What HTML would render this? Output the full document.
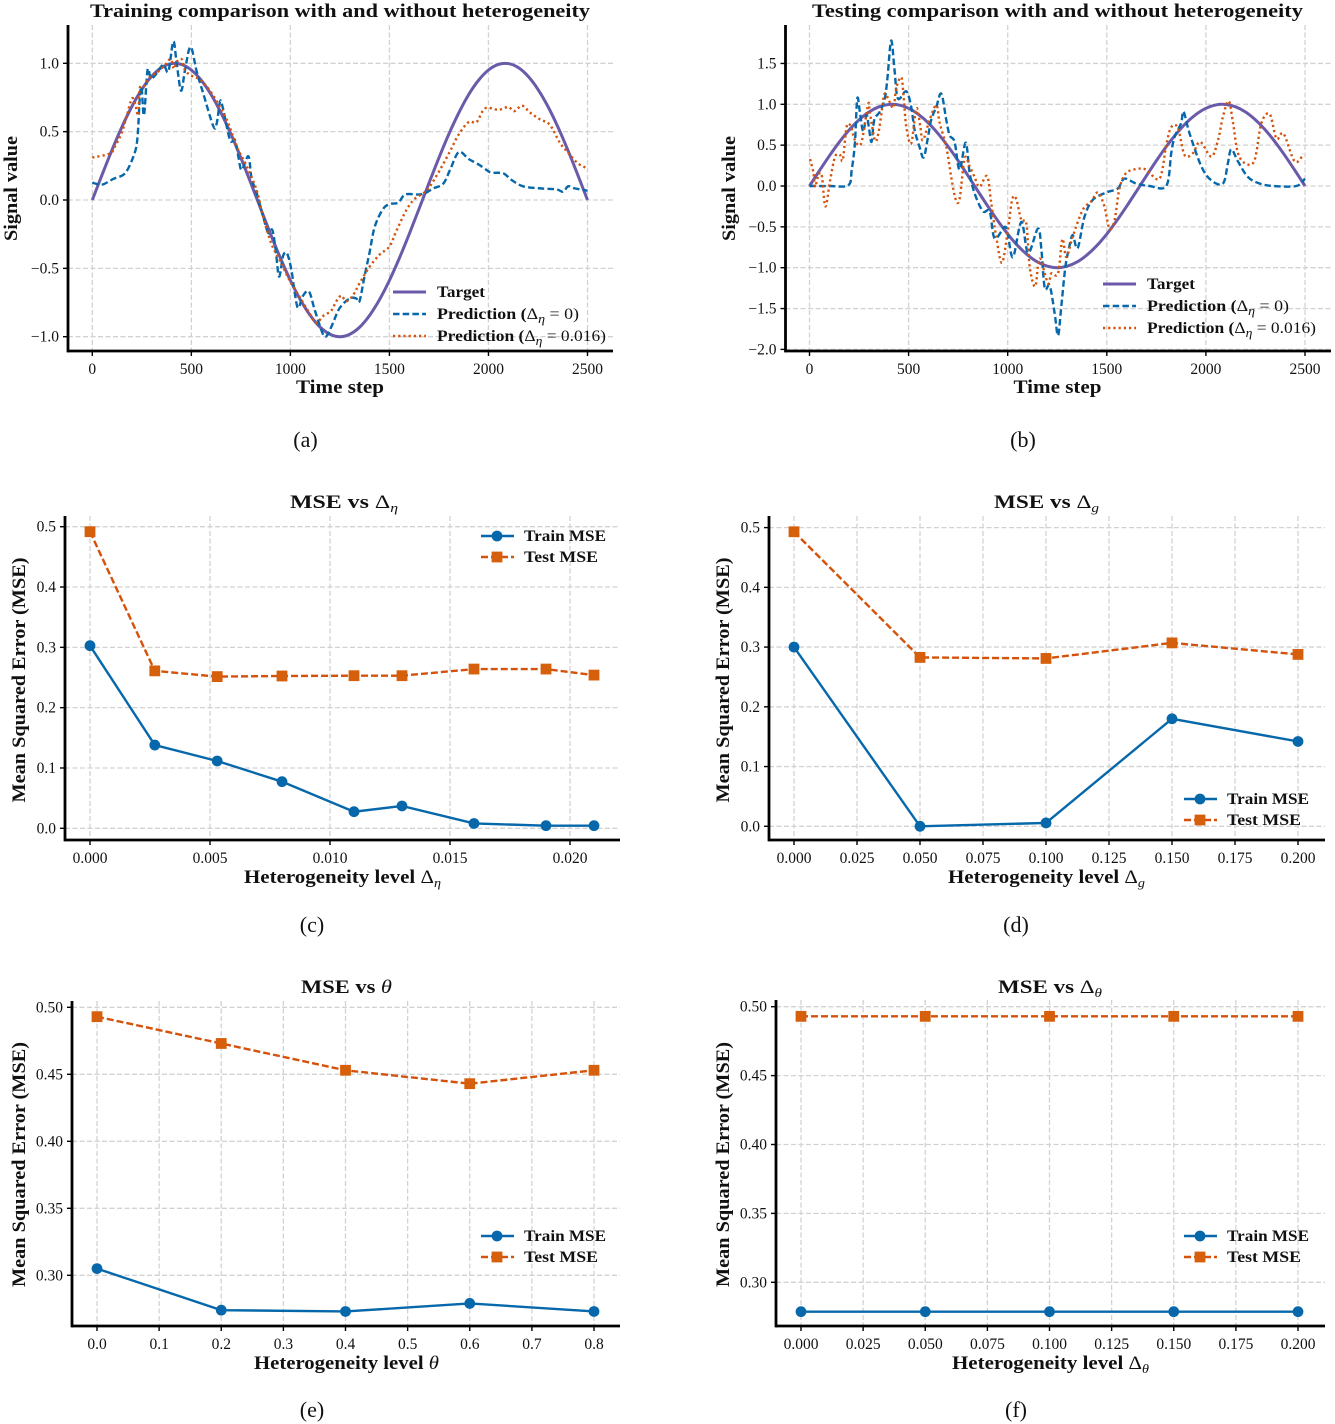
<!DOCTYPE html>
<html lang="en">
<head>
<meta charset="utf-8">
<title>Heterogeneity comparison charts</title>
<style>
html,body{margin:0;padding:0;background:#fff;}
svg{display:block;font-family:"Liberation Serif","DejaVu Serif",serif;}
</style>
</head>
<body>
<svg id="chart" width="1335" height="1424" viewBox="0 0 1335 1424" xmlns="http://www.w3.org/2000/svg">
<rect width="1335" height="1424" fill="#fff"/>
</svg>
<script>
// ---------- Signal data (panels a, b) ----------
const targetTime = [0,50,100,150,200,250,300,350,400,450,500,550,600,650,700,750,800,850,900,950,1000,1050,1100,1150,1200,1250,1300,1350,1400,1450,1500,1550,1600,1650,1700,1750,1800,1850,1900,1950,2000,2050,2100,2150,2200,2250,2300,2350,2400,2450,2500];
const targetValues = [0,.187,.368,.536,.685,.809,.905,.969,.998,.992,.951,.876,.771,.637,.482,.309,.125,-.063,-.249,-.426,-.588,-.729,-.844,-.930,-.982,-1,-.982,-.930,-.844,-.729,-.588,-.426,-.249,-.063,.125,.309,.482,.637,.771,.876,.951,.992,.998,.969,.905,.809,.685,.536,.368,.187,0];

const trainDashTime = [0,30,56,106,165,207,227,240,249,261,279,295,316,358,384,409,426,448,468,496,527,560,611,628,645,658,695,720,737,754,788,804,830,862,888,909,926,943,963,983,1005,1022,1039,1064,1094,1122,1156,1173,1190,1215,1249,1299,1332,1349,1374,1399,1425,1466,1500,1545,1579,1646,1680,1722,1772,1806,1850,1900,1950,1990,2015,2075,2117,2175,2260,2343,2377,2402,2436,2500];
const trainDashValues = [.127,.115,.115,.154,.195,.317,.44,.75,.82,.62,.95,.89,.91,.99,.94,1.16,1.0,.80,.95,1.12,.94,.78,.54,.56,.72,.68,.44,.44,.32,.22,.32,.16,.05,-.12,-.24,-.22,-.37,-.56,-.41,-.39,-.51,-.68,-.79,-.70,-.67,-.80,-.95,-1.0,-.98,-.90,-.79,-.72,-.72,-.74,-.56,-.39,-.2,-.07,-.03,-.02,.04,.04,.05,.085,.12,.22,.35,.30,.26,.22,.2,.195,.146,.1,.085,.078,.06,.10,.085,.068];

const trainDotTime = [0,89,114,148,173,199,215,232,240,266,291,333,367,396,412,426,451,468,500,544,594,645,687,729,779,830,862,904,946,997,1047,1097,1131,1164,1206,1232,1257,1282,1315,1349,1399,1450,1500,1537,1587,1629,1688,1739,1800,1850,1900,1940,1983,2050,2100,2130,2170,2210,2260,2310,2360,2400,2450,2500];
const trainDotValues = [.31,.34,.39,.49,.61,.74,.71,.62,.82,.84,.90,.94,.99,1.03,.96,1.01,1.03,.95,.91,.88,.80,.68,.56,.39,.25,.07,-.12,-.32,-.44,-.59,-.71,-.83,-.90,-.85,-.81,-.74,-.70,-.74,-.70,-.61,-.49,-.40,-.34,-.22,-.07,.01,.07,.18,.34,.48,.57,.57,.67,.66,.68,.65,.69,.64,.59,.55,.42,.35,.27,.23];

const testDashTime = [0,100,196,213,229,241,255,271,288,300,313,327,355,380,394,412,429,446,488,513,530,555,576,598,614,640,665,690,707,732,757,788,808,833,875,909,934,985,1001,1027,1069,1103,1153,1170,1187,1212,1237,1254,1271,1291,1311,1328,1353,1387,1429,1497,1556,1589,1648,1716,1800,1825,1842,1875,1887,1918,1977,2027,2086,2111,2128,2162,2212,2271,2339,2456,2500];
const testDashValues = [0,0,.01,.2,.52,1.07,.89,.67,.87,.71,.54,.81,.91,1.07,1.34,1.78,1.42,1.07,1.16,.97,.69,.48,.35,.60,.81,.97,1.13,.81,.62,.54,.2,.53,.16,-.09,-.31,-.31,-.64,-.5,-.6,-.87,-.44,-.82,-.52,-.78,-1.25,-1.22,-1.56,-1.83,-1.46,-.99,-.74,-.6,-.76,-.38,-.17,-.08,-.03,.09,.03,0,0,.4,.6,.77,.91,.64,.24,.07,.03,.28,.45,.3,.11,.03,0,0,.09];

const testDotTime = [3,20,28,45,62,80,104,129,154,168,188,209,221,238,263,296,305,330,347,363,379,404,424,438,463,475,488,513,539,559,572,606,640,657,690,715,737,757,783,808,833,858,896,917,942,971,1001,1023,1043,1069,1094,1111,1139,1161,1203,1220,1254,1276,1296,1328,1379,1421,1455,1488,1513,1539,1564,1598,1657,1699,1766,1800,1825,1859,1892,1934,1971,2027,2061,2086,2115,2137,2162,2204,2246,2280,2322,2356,2392,2448,2493];
const testDotValues = [.33,.16,-.01,.13,.13,-.25,.07,.36,.38,.32,.73,.73,.62,.52,.54,1.0,.89,.56,.64,.89,1.13,1.03,.96,1.2,1.33,1.09,.73,.52,.95,.73,.56,.81,.99,.77,.48,.11,-.16,-.16,.34,.24,.11,-.01,.12,-.21,-.62,-.94,-.54,-.16,-.16,-.42,-.46,-.99,-1.23,-.89,-1.19,-1.07,-1.07,-.65,-.87,-.62,-.29,-.19,-.08,-.25,-.52,-.42,-.03,.16,.21,.2,.09,.5,.72,.71,.38,.4,.54,.36,.56,.85,1.04,.77,.4,.27,.32,.77,.88,.58,.64,.3,.39];

// ---------- MSE data (panels c-f) ----------
const etaLevels = [0,.0027,.0053,.008,.011,.013,.016,.019,.021];
const etaTrainMse = [.3027,.138,.1116,.0773,.0275,.037,.008,.0044,.0044];
const etaTestMse = [.4917,.261,.2515,.2525,.253,.253,.264,.264,.254];

const gLevels = [0,.05,.1,.15,.2];
const gTrainMse = [.30,0,.0056,.18,.142];
const gTestMse = [.493,.2827,.281,.307,.2877];

const thetaLevels = [0,.2,.4,.6,.8];
const thetaTrainMse = [.305,.274,.273,.279,.273];
const thetaTestMse = [.493,.473,.453,.443,.453];

const dThetaLevels = [0,.05,.1,.15,.2];
const dThetaTrainMse = [.2787,.2787,.2787,.2787,.2787];
const dThetaTestMse = [.493,.493,.493,.493,.493];

// ---------- Tick labels ----------
const timeTicks = [0,500,1000,1500,2000,2500];
const signalTicksA = [-1,-.5,0,.5,1];
const signalTicksB = [-2,-1.5,-1,-.5,0,.5,1,1.5];
const etaTicks = [0,.005,.01,.015,.02];
const mseTicksCoarse = [0,.1,.2,.3,.4,.5];
const gTicks = [0,.025,.05,.075,.1,.125,.15,.175,.2];
const thetaTicks = [0,.1,.2,.3,.4,.5,.6,.7,.8];
const mseTicksFine = [.3,.35,.4,.45,.5];

// ---------- Rendering ----------
const NS = 'http://www.w3.org/2000/svg';
const root = document.getElementById('chart');
const PURPLE = '#6a5aa9', BLUE = '#0668aa', RED = '#d4520a', MARK = '#d65f0c', GRID = '#d2d2d2';
const DELTA = '<tspan font-weight="normal">\u0394</tspan>';
const sub = (s) => '<tspan font-weight="normal" font-style="italic" font-size="12.5" dy="4">' + s + '</tspan>';
const after = (s) => '<tspan font-weight="normal" dy="-4">' + s + '</tspan>';

function shape(parent, tag, name, attrs) {
  const el = document.createElementNS(NS, tag);
  
  
  for (const k in attrs) el.setAttribute(k, attrs[k]);
  parent.appendChild(el);
  return el;
}
function label(parent, name, x, y, html, o) {
  o = o || {};
  const el = document.createElementNS(NS, 'text');
  
  
  el.setAttribute('x', x);
  el.setAttribute('y', y);
  el.setAttribute('font-size', o.size || 15);
  el.setAttribute('fill', '#111');
  el.setAttribute('text-anchor', o.anchor || 'middle');
  if (o.bold) el.setAttribute('font-weight', 'bold');
  if (o.len) {
    el.setAttribute('textLength', o.len);
    el.setAttribute('lengthAdjust', 'spacingAndGlyphs');
  }
  if (o.rotate) el.setAttribute('transform', 'rotate(-90 ' + x + ' ' + y + ')');
  el.innerHTML = html;
  parent.appendChild(el);
  return el;
}
function fmt(v, d) { return (v < 0 ? '\u2212' : '') + Math.abs(v).toFixed(d); }
function linear(d0, d1, p0, p1) { return (v) => p0 + (v - d0) * (p1 - p0) / (d1 - d0); }
function smoothPath(xs, ys) {
  let d = 'M' + xs[0].toFixed(2) + ' ' + ys[0].toFixed(2);
  for (let i = 0; i < xs.length - 1; i++) {
    const a = Math.max(i - 1, 0), b = Math.min(i + 2, xs.length - 1);
    const c1x = xs[i] + (xs[i + 1] - xs[a]) / 6, c1y = ys[i] + (ys[i + 1] - ys[a]) / 6;
    const c2x = xs[i + 1] - (xs[b] - xs[i]) / 6, c2y = ys[i + 1] - (ys[b] - ys[i]) / 6;
    d += 'C' + c1x.toFixed(2) + ' ' + c1y.toFixed(2) + ' ' + c2x.toFixed(2) + ' ' + c2y.toFixed(2) + ' ' + xs[i + 1].toFixed(2) + ' ' + ys[i + 1].toFixed(2);
  }
  return d;
}
function straightPath(xs, ys) {
  return xs.map((x, i) => (i ? 'L' : 'M') + x.toFixed(2) + ' ' + ys[i].toFixed(2)).join('');
}
function axes(c) {
  const g = shape(root, 'g', c.id, {});
  const sx = linear(c.xd[0], c.xd[1], c.xp[0], c.xp[1]);
  const sy = linear(c.yd[0], c.yd[1], c.yp[0], c.yp[1]);
  const gridG = shape(g, 'g', 'grid', {});
  c.xTicks.forEach((t) => {
    shape(gridG, 'line', 'vertical-gridline', { x1: sx(t), x2: sx(t), y1: c.top, y2: c.bottom, stroke: GRID, 'stroke-width': 1.3, 'stroke-dasharray': '5 2.5' });
  });
  c.yTicks.forEach((t) => {
    shape(gridG, 'line', 'horizontal-gridline', { x1: c.left, x2: c.right, y1: sy(t), y2: sy(t), stroke: GRID, 'stroke-width': 1.3, 'stroke-dasharray': '5 2.5' });
  });
  return { g: g, sx: sx, sy: sy };
}
function frame(a, c) {
  const g = a.g;
  shape(g, 'line', 'y-axis-spine', { x1: c.left, x2: c.left, y1: c.top, y2: c.bottom + 1.4, stroke: '#000', 'stroke-width': 2.8 });
  shape(g, 'line', 'x-axis-spine', { x1: c.left, x2: c.right, y1: c.bottom, y2: c.bottom, stroke: '#000', 'stroke-width': 2.8 });
  c.xTicks.forEach((t) => {
    shape(g, 'line', 'x-tick', { x1: a.sx(t), x2: a.sx(t), y1: c.bottom, y2: c.bottom + 5, stroke: '#000', 'stroke-width': 1.4 });
    label(g, 'x-tick-label', a.sx(t), c.bottom + 23, fmt(t, c.xDec), { size: 15.5 });
  });
  c.yTicks.forEach((t) => {
    shape(g, 'line', 'y-tick', { x1: c.left - 5, x2: c.left, y1: a.sy(t), y2: a.sy(t), stroke: '#000', 'stroke-width': 1.4 });
    label(g, 'y-tick-label', c.left - 9, a.sy(t) + 5, fmt(t, c.yDec), { size: 15.5, anchor: 'end' });
  });
  label(g, 'chart-title', c.title[1], c.title[2], c.title[0], { size: 19, bold: true, len: c.title[3] });
  label(g, 'x-axis-title', c.xLabel[1], c.xLabel[2], c.xLabel[0], { size: 18.5, bold: true, len: c.xLabel[3] });
  label(g, 'y-axis-title', c.yLabel[1], c.yLabel[2], c.yLabel[0], { size: 18.5, bold: true, len: c.yLabel[3], rotate: true });
  label(g, 'panel-caption', c.caption[1], c.caption[2], c.caption[0], { size: 22 });
}
function signalPanel(c, series, leg) {
  const a = axes(c);
  const tx = (arr) => arr.map(a.sx), ty = (arr) => arr.map(a.sy);
  shape(a.g, 'path', 'target-line', { d: smoothPath(tx(targetTime), ty(targetValues)), fill: 'none', stroke: PURPLE, 'stroke-width': 3 });
  shape(a.g, 'path', 'prediction-dashed-line', { d: smoothPath(tx(series[0]), ty(series[1])), fill: 'none', stroke: BLUE, 'stroke-width': 2.4, 'stroke-dasharray': '6.5 3.2' });
  shape(a.g, 'path', 'prediction-dotted-line', { d: smoothPath(tx(series[2]), ty(series[3])), fill: 'none', stroke: RED, 'stroke-width': 2.4, 'stroke-dasharray': '2.2 3' });
  frame(a, c);
  const lg = shape(a.g, 'g', 'legend', {});
  shape(lg, 'line', 'legend-target-swatch', { x1: leg.x, x2: leg.x + 33, y1: leg.y[0], y2: leg.y[0], stroke: PURPLE, 'stroke-width': 3 });
  shape(lg, 'line', 'legend-dashed-swatch', { x1: leg.x, x2: leg.x + 33, y1: leg.y[1], y2: leg.y[1], stroke: BLUE, 'stroke-width': 2.4, 'stroke-dasharray': '6.5 3.2' });
  shape(lg, 'line', 'legend-dotted-swatch', { x1: leg.x, x2: leg.x + 33, y1: leg.y[2], y2: leg.y[2], stroke: RED, 'stroke-width': 2.4, 'stroke-dasharray': '2.2 3' });
  const tx0 = leg.x + 44;
  label(lg, 'legend-target-label', tx0, leg.y[0] + 5, 'Target', { size: 16, bold: true, anchor: 'start', len: 48 });
  label(lg, 'legend-dashed-label', tx0, leg.y[1] + 5, 'Prediction (' + DELTA + sub('\u03b7') + after(' = 0') + '<tspan font-weight="normal">)</tspan>', { size: 16, bold: true, anchor: 'start', len: 142 });
  label(lg, 'legend-dotted-label', tx0, leg.y[2] + 5, 'Prediction (' + DELTA + sub('\u03b7') + after(' = 0.016') + '<tspan font-weight="normal">)</tspan>', { size: 16, bold: true, anchor: 'start', len: 169 });
}
function msePanel(c, xs, train, test, leg) {
  const a = axes(c);
  const px = xs.map(a.sx);
  shape(a.g, 'path', 'train-mse-line', { d: straightPath(px, train.map(a.sy)), fill: 'none', stroke: BLUE, 'stroke-width': 2.4 });
  shape(a.g, 'path', 'test-mse-line', { d: straightPath(px, test.map(a.sy)), fill: 'none', stroke: RED, 'stroke-width': 2.4, 'stroke-dasharray': '7 3' });
  xs.forEach((x, i) => {
    shape(a.g, 'circle', 'train-mse-point', { cx: a.sx(x), cy: a.sy(train[i]), r: 5.4, fill: BLUE });
  });
  xs.forEach((x, i) => {
    shape(a.g, 'rect', 'test-mse-point', { x: a.sx(x) - 5.4, y: a.sy(test[i]) - 5.4, width: 10.8, height: 10.8, fill: MARK });
  });
  frame(a, c);
  const lg = shape(a.g, 'g', 'legend', {});
  shape(lg, 'line', 'legend-train-swatch', { x1: leg.x, x2: leg.x + 33, y1: leg.y[0], y2: leg.y[0], stroke: BLUE, 'stroke-width': 2.4 });
  shape(lg, 'circle', 'legend-train-marker', { cx: leg.x + 16, cy: leg.y[0], r: 5.4, fill: BLUE });
  shape(lg, 'line', 'legend-test-swatch', { x1: leg.x, x2: leg.x + 33, y1: leg.y[1], y2: leg.y[1], stroke: RED, 'stroke-width': 2.4, 'stroke-dasharray': '7 3' });
  shape(lg, 'rect', 'legend-test-marker', { x: leg.x + 10.6, y: leg.y[1] - 5.4, width: 10.8, height: 10.8, fill: MARK });
  label(lg, 'legend-train-label', leg.x + 43, leg.y[0] + 5, 'Train MSE', { size: 16, bold: true, anchor: 'start', len: 82 });
  label(lg, 'legend-test-label', leg.x + 43, leg.y[1] + 5, 'Test MSE', { size: 16, bold: true, anchor: 'start', len: 74 });
}

signalPanel({
  id: 'panel-a-training', left: 68, right: 613, top: 25, bottom: 351,
  xd: [0, 2500], xp: [92.3, 587.5], yd: [0, 1], yp: [200, 63.3],
  xTicks: timeTicks, yTicks: signalTicksA, xDec: 0, yDec: 1,
  title: ['Training comparison with and without heterogeneity', 340, 17, 500],
  xLabel: ['Time step', 340, 393, 88], yLabel: ['Signal value', 17, 188.5, 105],
  caption: ['(a)', 305.5, 447]
}, [trainDashTime, trainDashValues, trainDotTime, trainDotValues], { x: 393, y: [292, 314, 336] });

signalPanel({
  id: 'panel-b-testing', left: 785.5, right: 1331, top: 25, bottom: 351,
  xd: [0, 2500], xp: [809.5, 1305], yd: [0, 1], yp: [186, 104.3],
  xTicks: timeTicks, yTicks: signalTicksB, xDec: 0, yDec: 1,
  title: ['Testing comparison with and without heterogeneity', 1057.5, 17, 491],
  xLabel: ['Time step', 1057.5, 393, 88], yLabel: ['Signal value', 735, 188.5, 105],
  caption: ['(b)', 1023, 447]
}, [testDashTime, testDashValues, testDotTime, testDotValues], { x: 1103, y: [284, 306, 328] });

msePanel({
  id: 'panel-c-mse-eta', left: 65, right: 620, top: 516, bottom: 840,
  xd: [0, .02], xp: [90, 570], yd: [0, .5], yp: [828.3, 526.7],
  xTicks: etaTicks, yTicks: mseTicksCoarse, xDec: 3, yDec: 1,
  title: ['MSE vs ' + DELTA + sub('\u03b7'), 344, 508, 108],
  xLabel: ['Heterogeneity level ' + DELTA + sub('\u03b7'), 342.5, 883, 197],
  yLabel: ['Mean Squared Error (MSE)', 25, 680, 245],
  caption: ['(c)', 312, 932]
}, etaLevels, etaTrainMse, etaTestMse, { x: 481, y: [536, 557] });

msePanel({
  id: 'panel-d-mse-g', left: 769, right: 1325, top: 516, bottom: 840,
  xd: [0, .2], xp: [794, 1298], yd: [0, .5], yp: [826.3, 527.6],
  xTicks: gTicks, yTicks: mseTicksCoarse, xDec: 3, yDec: 1,
  title: ['MSE vs ' + DELTA + sub('g'), 1046.5, 508, 105],
  xLabel: ['Heterogeneity level ' + DELTA + sub('g'), 1046.5, 883, 197],
  yLabel: ['Mean Squared Error (MSE)', 729, 680, 245],
  caption: ['(d)', 1016, 932]
}, gLevels, gTrainMse, gTestMse, { x: 1184, y: [799, 820] });

msePanel({
  id: 'panel-e-mse-theta', left: 72, right: 620, top: 1001, bottom: 1326,
  xd: [0, .8], xp: [97, 594], yd: [.3, .5], yp: [1275.3, 1007.3],
  xTicks: thetaTicks, yTicks: mseTicksFine, xDec: 1, yDec: 2,
  title: ['MSE vs <tspan font-weight="normal" font-style="italic">\u03b8</tspan>', 346.5, 993, 91],
  xLabel: ['Heterogeneity level <tspan font-weight="normal" font-style="italic">\u03b8</tspan>', 346.5, 1369, 185],
  yLabel: ['Mean Squared Error (MSE)', 25, 1164.5, 245],
  caption: ['(e)', 312, 1417]
}, thetaLevels, thetaTrainMse, thetaTestMse, { x: 481, y: [1236, 1257] });

msePanel({
  id: 'panel-f-mse-delta-theta', left: 776, right: 1325, top: 1000, bottom: 1326,
  xd: [0, .2], xp: [801, 1298], yd: [.3, .5], yp: [1282.3, 1006.7],
  xTicks: gTicks, yTicks: mseTicksFine, xDec: 3, yDec: 2,
  title: ['MSE vs ' + DELTA + sub('\u03b8'), 1050, 993, 104],
  xLabel: ['Heterogeneity level ' + DELTA + sub('\u03b8'), 1050.5, 1369, 197],
  yLabel: ['Mean Squared Error (MSE)', 729, 1164.5, 245],
  caption: ['(f)', 1016, 1417]
}, dThetaLevels, dThetaTrainMse, dThetaTestMse, { x: 1184, y: [1236, 1257] });
</script>
</body>
</html>
